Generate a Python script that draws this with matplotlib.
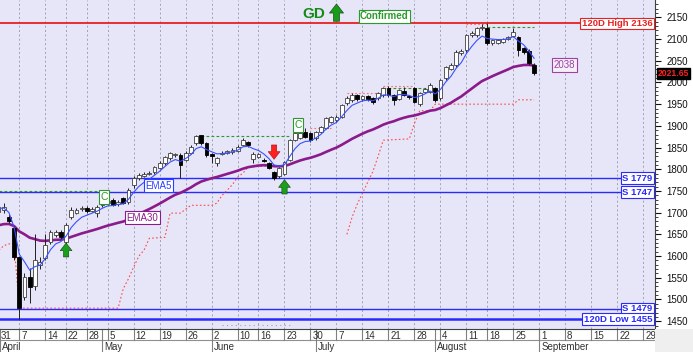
import matplotlib
matplotlib.use('Agg')
import matplotlib.pyplot as plt
import matplotlib.transforms as mtransforms
from matplotlib.patches import Rectangle
import numpy as np
import pandas as pd

plt.rcParams['font.family'] = ['Liberation Sans', 'DejaVu Sans']

# trading day index, 0 = Apr 7
days = list(range(-4, 100))
opens = [1702, 1706, 1690, 1665, 1598, 1506, 1552, 1530, 1580, 1595,
         1632, 1648, 1655, 1632, 1690, 1700, 1708, 1711, 1705, 1700,
         1717, 1722, 1729, 1719, 1733, 1724, 1763, 1780, 1785, 1790,
         1793, 1803, 1814, 1826, 1833, 1833, 1822, 1838, 1860, 1878,
         1860, 1835, 1814, 1836, 1838, 1840, 1842, 1856, 1862, 1824,
         1828, 1822, 1814, 1793, 1784, 1790, 1821, 1867, 1872, 1886,
         1883, 1872, 1886, 1895, 1909, 1913, 1920, 1952, 1959, 1970,
         1962, 1968, 1964, 1964, 1970, 1987, 1970, 1963, 1980, 1968,
         1987, 1950, 1978, 1978, 1987, 1964, 2010, 2032, 2040, 2068,
         2074, 2109, 2109, 2125, 2125, 2092, 2090, 2094, 2100, 2108,
         2104, 2079, 2072, 2040]
closes = [1712, 1714, 1680, 1598, 1480, 1552, 1529, 1592, 1586, 1625,
          1655, 1655, 1644, 1671, 1706, 1706, 1710, 1704, 1708, 1713,
          1724, 1726, 1718, 1725, 1722, 1752, 1780, 1787, 1789, 1791,
          1805, 1814, 1828, 1837, 1834, 1810, 1838, 1851, 1876, 1860,
          1833, 1830, 1826, 1837, 1842, 1844, 1852, 1867, 1856, 1836,
          1835, 1820, 1803, 1780, 1803, 1816, 1867, 1883, 1883, 1874,
          1867, 1886, 1897, 1918, 1920, 1920, 1948, 1964, 1971, 1963,
          1968, 1962, 1955, 1975, 1987, 1970, 1960, 1982, 1972, 1966,
          1955, 1975, 1984, 1994, 1960, 2005, 2035, 2040, 2070, 2072,
          2109, 2115, 2125, 2127, 2090, 2097, 2097, 2099, 2104, 2116,
          2074, 2070, 2044, 2021.65]
highs = [1720, 1722, 1698, 1670, 1600, 1562, 1572, 1650, 1598, 1652,
         1660, 1660, 1660, 1676, 1712, 1710, 1715, 1716, 1713, 1717,
         1728, 1730, 1733, 1729, 1736, 1756, 1784, 1791, 1793, 1795,
         1808, 1818, 1831, 1840, 1838, 1838, 1842, 1855, 1879, 1880,
         1863, 1838, 1829, 1841, 1845, 1848, 1855, 1872, 1866, 1840,
         1838, 1825, 1817, 1795, 1806, 1819, 1870, 1886, 1887, 1895,
         1887, 1889, 1900, 1921, 1923, 1924, 1951, 1968, 1975, 1974,
         1971, 1972, 1967, 1978, 1990, 1992, 1973, 1986, 1990, 1972,
         1990, 1978, 1988, 1998, 1990, 2008, 2038, 2044, 2074, 2076,
         2112, 2118, 2128, 2134, 2136, 2100, 2101, 2102, 2108, 2125,
         2106, 2082, 2078, 2046]
lows = [1698, 1700, 1676, 1592, 1455, 1498, 1492, 1522, 1570, 1590,
        1628, 1645, 1640, 1628, 1686, 1697, 1703, 1700, 1701, 1690,
        1714, 1718, 1715, 1716, 1719, 1721, 1758, 1776, 1782, 1786,
        1790, 1800, 1811, 1822, 1829, 1780, 1818, 1835, 1856, 1856,
        1828, 1814, 1808, 1832, 1835, 1836, 1839, 1853, 1852, 1815,
        1825, 1816, 1800, 1776, 1780, 1787, 1818, 1864, 1870, 1872,
        1862, 1868, 1883, 1892, 1906, 1910, 1917, 1948, 1955, 1958,
        1958, 1958, 1950, 1960, 1966, 1966, 1948, 1960, 1968, 1962,
        1952, 1946, 1975, 1975, 1955, 1960, 2006, 2028, 2036, 2064,
        2070, 2105, 2105, 2120, 2086, 2086, 2088, 2090, 2097, 2104,
        2060, 2066, 2040, 2018]

ema5_start = 1708
ema30_start = 1668

# trailing stop (red dotted), points where it changes
stop_a_k = [-4, -3, -2, -1, 0, 19, 20, 21, 22, 23, 24, 25, 28, 29, 31, 32, 33, 37, 38, 39, 40, 41, 42, 43, 44, 48]
stop_a_v = [1612, 1624, 1628, 1628, 1480, 1480, 1525, 1548, 1575, 1600, 1614, 1641, 1643, 1699, 1699, 1708, 1717, 1717, 1722, 1740, 1752, 1765, 1782, 1791, 1805, 1808]
stop_b_k = [63, 64, 65, 66, 67, 68, 69, 70, 75, 76, 77, 79, 80, 95, 96, 99]
stop_b_v = [1650, 1690, 1720, 1745, 1770, 1795, 1830, 1867, 1870, 1906, 1935, 1935, 1950, 1950, 1960, 1960]

# resistance lines (green dashed) and prior highs (pink dotted)
res_start = [-4, 34, 70, 90]
res_end = [15, 52, 80, 99]
res_level = [1750, 1877, 1988, 2127]
hi_start = [56, 63, 70, 86]
hi_end = [60, 69, 76, 90]
hi_level = [1895, 1975, 1992, 2134]

levels = [2136, 1779, 1747, 1479, 1455]
level_labels = ['120D High 2136', 'S 1779', 'S 1747', 'S 1479', '120D Low 1455']
level_colors = ['#e82020', '#2a2aff', '#2a2aff', '#2a2aff', '#2a2aff']
level_widths = [1.3, 1.0, 1.0, 1.0, 1.8]

tick_days = [-4, 0, 5, 9, 13, 17, 22, 27, 32, 37, 42, 46, 51, 56, 61, 66, 71, 76, 81, 86, 90, 95, 100, 105, 110, 115, 120]
tick_labels = ['31', '7', '14', '22', '28', '5', '12', '19', '26', '2', '10', '16', '23', '30', '7', '14', '21', '28',
               '4', '11', '18', '25', '1', '8', '15', '22', '29']
month_days = [-3.7, 16, 37, 57, 80, 100]
month_names = ['April', 'May', 'June', 'July', 'August', 'September']

fig = plt.figure(figsize=(6.93, 3.52), dpi=100)
fig.patch.set_facecolor('white')
fig.patches.append(Rectangle((655 / 693, 0), 38 / 693, 23 / 352, transform=fig.transFigure,
                             facecolor='#efefef', edgecolor='none'))
ax = fig.add_axes([0, 23 / 352, 655 / 693, 329 / 352])
ax.set_facecolor('#e6e6f8')
ax.set_xlim(-3.71, 122.25)
ax.set_ylim(1432, 2190)

blend = mtransforms.blended_transform_factory(ax.transData, ax.transAxes)
blend_y = mtransforms.blended_transform_factory(ax.transAxes, ax.transData)

# vertical grid
for k in tick_days:
    ax.axvline(k, color='#a0a0b0', lw=0.7, ls=(0, (2, 2.5)), zorder=1)

# horizontal level lines with labels
for lv, lab, col, lw in zip(levels, level_labels, level_colors, level_widths):
    ax.axhline(lv, color=col, lw=lw, zorder=2)
    ax.text(0.996, lv, lab, transform=blend_y, ha='right', va='center', fontsize=6.8,
            fontweight='bold', color=col, zorder=8,
            bbox=dict(boxstyle='square,pad=0.15', facecolor='white', edgecolor=col, lw=0.8))

# resistance and highs
for s, e, lv in zip(res_start, res_end, res_level):
    ax.plot([s, e], [lv, lv], color='#2a9a2a', lw=0.8, ls=(0, (2.5, 2)), zorder=2)
for s, e, lv in zip(hi_start, hi_end, hi_level):
    ax.plot([s, e], [lv, lv], color='#ff7070', lw=0.8, ls=(0, (1.5, 2)), zorder=2)

# trailing stop
ax.plot(stop_a_k, stop_a_v, color='#ff4a4a', lw=0.8, ls=(0, (1.5, 2)), zorder=2)
ax.plot(stop_b_k, stop_b_v, color='#ff4a4a', lw=0.8, ls=(0, (1.5, 2)), zorder=2)

# small gray dots near the bottom
ax.plot([39, 52], [1441, 1441], color='#a0a0c0', lw=0.8, ls=(0, (1, 3)), zorder=2)

# EMAs
ema5 = pd.Series([ema5_start] + closes).ewm(span=5, adjust=False).mean().iloc[1:]
ema30 = pd.Series([ema30_start] + closes).ewm(span=30, adjust=False).mean().iloc[1:]
ax.plot(days, ema30.values, color='#8b1a8b', lw=1.9, zorder=3)

# candles
x = np.array(days)
o = np.array(opens, dtype=float)
c = np.array(closes, dtype=float)
h = np.array(highs, dtype=float)
l = np.array(lows, dtype=float)
up = c >= o
ax.vlines(x, l, h, color='#202020', lw=0.7, zorder=4)
bottom = np.minimum(o, c)
height = np.maximum(np.abs(c - o), 1.5)
ax.bar(x[up], height[up], bottom=bottom[up], width=0.7, color='white', edgecolor='#404040', lw=0.6, zorder=5)
ax.bar(x[~up], height[~up], bottom=bottom[~up], width=0.7, color='black', edgecolor='black', lw=0.6, zorder=5)

ax.plot(days, ema5.values, color='#3a50ff', lw=0.8, zorder=6)

# arrows
def block_arrow(k, tail, tip, col, scale=10):
    edge = '#a01010' if col == '#ff2020' else '#104010'
    ax.annotate('', xy=(k, tip), xytext=(k, tail),
                arrowprops=dict(arrowstyle='simple,head_length=0.55,head_width=0.85,tail_width=0.38',
                                facecolor=col, edgecolor=edge, lw=0.4, mutation_scale=scale,
                                shrinkA=0, shrinkB=0), zorder=9)

block_arrow(9, 1598, 1630, '#1aa01a')
block_arrow(51, 1743, 1776, '#1aa01a')
block_arrow(49, 1856, 1823, '#ff2020')
block_arrow(61, 2141, 2181, '#1a9a1a', scale=12)

ax.text(56.6, 2157, 'GD', fontsize=11, fontweight='bold', color='#158a15', ha='center', va='center', zorder=9)
ax.text(70.2, 2152, 'Confirmed', fontsize=7, fontweight='bold', color='#2a9a2a', ha='center', va='center', zorder=9,
        bbox=dict(boxstyle='square,pad=0.15', facecolor='white', edgecolor='#2a9a2a', lw=0.8))

# boxed labels
ax.text(26.8, 1762, 'EMA5', fontsize=7, color='#2a40ff', ha='center', va='center', zorder=9,
        bbox=dict(boxstyle='square,pad=0.15', facecolor='white', edgecolor='#2a40ff', lw=0.8))
ax.text(23.7, 1688, 'EMA30', fontsize=7, color='#8b1a8b', ha='center', va='center', zorder=9,
        bbox=dict(boxstyle='square,pad=0.15', facecolor='white', edgecolor='#8b1a8b', lw=0.8))
ax.text(104.8, 2040, '2038', fontsize=7, color='#a040a0', ha='center', va='center', zorder=9,
        bbox=dict(boxstyle='square,pad=0.2', facecolor='#f4f0fa', edgecolor='#a040a0', lw=0.8))
for ck, cv in zip([16.3, 53.6], [1736, 1902]):
    ax.text(ck, cv, 'C', fontsize=7.5, color='#2a9a2a', ha='center', va='center', zorder=9,
            bbox=dict(boxstyle='square,pad=0.15', facecolor='white', edgecolor='#2a9a2a', lw=0.8))

# right axis
ax.yaxis.tick_right()
ax.set_yticks(range(1450, 2151, 50))
ax.set_yticks(range(1440, 2190, 10), minor=True)
ax.tick_params(axis='y', which='major', length=4.5, width=0.8, labelsize=7, pad=3.5, colors='#101010')
ax.tick_params(axis='y', which='minor', length=2, width=0.6, colors='#202020')
ax.set_xticks([])
for s in ['left', 'top']:
    ax.spines[s].set_visible(False)
ax.spines['right'].set_color('#404040')
ax.spines['bottom'].set_color('#404040')

# price tag
ax.text(1.004, 2021.65, '2021.65', transform=blend_y, ha='left', va='center', fontsize=6.2,
        fontweight='bold', color='#ff2020', zorder=9,
        bbox=dict(boxstyle='square,pad=0.12', facecolor='black', edgecolor='black'))

# date rows
row1 = -11 / 329
row2 = -23 / 329
ax.plot([0, 1], [row1, row1], transform=ax.transAxes, color='#909090', lw=0.8, clip_on=False)
for k, lab in zip(tick_days, tick_labels):
    if k > -3.71:
        ax.plot([k, k], [0, row1], transform=blend, color='#808080', lw=0.8, clip_on=False)
    ax.annotate(lab, xy=(k, 0), xycoords=blend, xytext=(1.3, -1.2), textcoords='offset points',
                ha='left', va='top', fontsize=7, color='#303030', annotation_clip=False)
for k, lab in zip(month_days, month_names):
    ax.plot([k, k], [0, row2], transform=blend, color='#808080', lw=0.8, clip_on=False)
    ax.annotate(lab, xy=(k, row1), xycoords=blend, xytext=(1.3, -1.2), textcoords='offset points',
                ha='left', va='top', fontsize=7, color='#303030', annotation_clip=False)

fig.savefig('out.png', dpi=100)
